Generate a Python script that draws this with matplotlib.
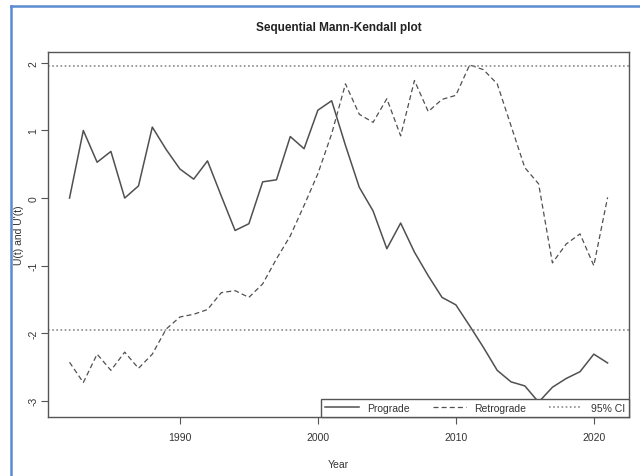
import matplotlib
matplotlib.use("Agg")
import matplotlib.pyplot as plt
from matplotlib.lines import Line2D

plt.rcParams['font.family'] = ['Liberation Sans Narrow', 'Liberation Sans', 'DejaVu Sans']

years = list(range(1982, 2022))
prograde = [0.00, 1.00, 0.53, 0.69, 0.00, 0.18, 1.05, 0.72, 0.43, 0.28,
            0.55, 0.03, -0.48, -0.38, 0.24, 0.27, 0.91, 0.73, 1.30, 1.44,
            0.78, 0.16, -0.19, -0.75, -0.37, -0.80, -1.15, -1.47, -1.58, -1.89,
            -2.21, -2.55, -2.72, -2.78, -3.02, -2.80, -2.67, -2.57, -2.31, -2.44]
retrograde = [-2.43, -2.73, -2.31, -2.55, -2.28, -2.52, -2.31, -1.94, -1.76, -1.72,
              -1.65, -1.40, -1.37, -1.47, -1.27, -0.90, -0.56, -0.11, 0.36, 0.95,
              1.69, 1.24, 1.12, 1.47, 0.92, 1.74, 1.28, 1.46, 1.52, 1.97,
              1.90, 1.69, 1.07, 0.45, 0.21, -0.96, -0.68, -0.53, -1.00, 0.01]
ci = 1.96

fig = plt.figure(figsize=(6.4, 4.77), dpi=100)
ax = fig.add_axes([0.075, 0.1237, 0.908, 0.765])

line_col = '#505050'
ax.plot(years, prograde, color=line_col, lw=1.1, label='Prograde')
ax.plot(years, retrograde, color=line_col, lw=0.9, ls=(0, (4, 2.5)), label='Retrograde')
ax.axhline(ci, color='#8a8a8a', lw=1.2, ls=(0, (1, 1.5)), label='95% CI')
ax.axhline(-ci, color='#8a8a8a', lw=1.2, ls=(0, (1, 1.5)))

ax.set_xlim(1980.44, 2022.56)
ax.set_ylim(-3.24, 2.16)
ax.set_xticks([1990, 2000, 2010, 2020])
ax.set_yticks([-3, -2, -1, 0, 1, 2])
ax.set_yticklabels(['-3', '-2', '-1', '0', '1', '2'], rotation=90, va='center')
ax.tick_params(colors='#555555', labelcolor='#333333', labelsize=7.5, length=5, width=0.8)
ax.tick_params(axis='x', pad=6)
ax.tick_params(axis='y', pad=2)
for s in ax.spines.values():
    s.set_color('#555555')
    s.set_linewidth(1.0)

ax.set_title('Sequential Mann-Kendall plot', fontsize=8.5, fontweight='bold', color='#222222', pad=16)
ax.set_xlabel('Year', fontsize=7.5, color='#333333', labelpad=12)
ax.set_ylabel("U(t) and U'(t)", fontsize=7.5, color='#333333')
ax.yaxis.set_label_coords(-0.042, 0.5)

leg = ax.legend(loc='lower left', bbox_to_anchor=(0.47, 0.0, 0.53, 0.085), mode='expand',
                ncol=3, borderaxespad=0, fancybox=False, handlelength=3.2,
                fontsize=7.5, edgecolor='#555555', framealpha=1)
leg.get_frame().set_linewidth(1.0)
for t in leg.get_texts():
    t.set_color('#333333')

# blue screenshot frame
fig.add_artist(Line2D([0.017, 1.0], [0.985, 0.985], transform=fig.transFigure,
                      color='#5b8bd0', lw=1.8))
fig.add_artist(Line2D([0.017, 0.017], [0.0, 0.985], transform=fig.transFigure,
                      color='#5b8bd0', lw=1.8))

fig.savefig('out.png', dpi=100)
